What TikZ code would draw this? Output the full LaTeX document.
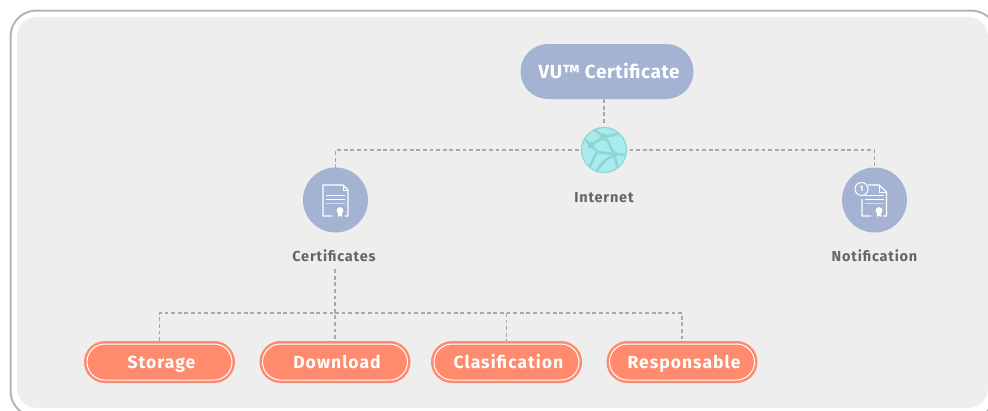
\documentclass[tikz,border=0pt]{standalone}
\usepackage{fontspec}
\setmainfont{Fira Sans}
\newfontfamily\pillfont{Fira Sans}[LetterSpace=6]
\newfontfamily\capfont{Fira Sans}[LetterSpace=5.4]
\newfontfamily\topfont{Fira Sans}[LetterSpace=3]
\usetikzlibrary{shapes.misc}
\definecolor{panelbg}{HTML}{EEEEEE}
\definecolor{panelline}{HTML}{B4B4B4}
\definecolor{slate}{HTML}{A5B3D3}
\definecolor{coral}{HTML}{FF8A6E}
\definecolor{labelgray}{HTML}{666666}
\definecolor{dashgray}{HTML}{A8A8A8}
\definecolor{globefill}{HTML}{A9ECEB}
\definecolor{globevein}{HTML}{8ED6D6}
\tikzset{
  dashline/.style={dashgray,line width=1.8pt,dash pattern=on 3.8pt off 2.8pt},
  pill/.style={rounded rectangle,draw=coral,fill=coral,line width=2.5pt,double=white,double distance=1pt,
    minimum width=145pt,minimum height=36pt,inner sep=0pt,outer sep=3pt,text=white,text height=12pt,text depth=0pt,
    font=\pillfont\bfseries\fontsize{17.5}{18}\selectfont},
  iconball/.style={circle,fill=slate,minimum size=65pt,inner sep=0pt,outer sep=0pt},
  caption/.style={text=labelgray,text height=10pt,text depth=0pt,font=\capfont\bfseries\fontsize{14.5}{16}\selectfont,inner sep=0pt},
}
\begin{document}
\begin{tikzpicture}[x=1pt,y=-1pt,line join=round]
\tikzset{
sheet/.pic={
\draw[white,line width=1.2pt](-3,16)--(-12.5,16)--(-12.5,-15)--(7.5,-15)--(12.5,-10)--(12.5,16)--(9,16);
\draw[white,line width=.8pt](7.5,-15)--(7.5,-10)--(12.5,-10);
},
seal/.pic={
\fill[white](2.5,11)--(2.5,17)--(4.5,15.5)--(6.5,17)--(6.5,11)--cycle;
\fill[white](4.5,10.5)circle(3.4);
},
rows/.pic={
\draw[white,line width=.8pt](-9.5,-5)--(9.5,-5) (-9.5,-.7)--(9.5,-.7);
\draw[white,opacity=.55,line width=1pt](-9.5,3.3)--(9.5,3.3);
},
}
\useasboundingbox (0,0) rectangle (988,410);
\clip (0,0) rectangle (988,410);
\draw[panelline,line width=2pt,rounded corners=26pt](10.5,10.5) rectangle (997,417);
\fill[panelbg,rounded corners=20pt](17,17) rectangle (988,408);
% top of the tree
\node[rounded rectangle,fill=slate,minimum width=173pt,minimum height=55pt,inner sep=0pt,text=white,text height=13pt,text depth=0pt,font=\topfont\bfseries\fontsize{19}{20}\selectfont] (vu) at (607,71.5) {\hspace{4pt}VU™ Certificate};
\node[circle,fill=globefill,draw=globevein,line width=1.2pt,minimum size=45pt,inner sep=0pt,outer sep=3pt] (globe) at (604,150) {};
\begin{scope}
\clip (604,150) circle (22.5);
\draw[globevein,line width=2.6pt]
 (592,128)--(604,137)--(622,133)
 (604,137)--(591,145)--(584,139)
 (591,145)--(597,152)--(587,172)
 (604,137)--(608,142)--(614,154)--(630,155)
 (597,152)--(614,154)--(619,172)
 (596,172)..controls (602,162) and (608,157) ..(614,156);
\fill[globevein](604,137)circle(4) (591,145)circle(3.5) (614,154)circle(3.5);
\end{scope}
\node[caption] (internet) at (604,197) {Internet};
% left and right branch
\node[iconball] (cert) at (335.5,200) {};
\node[iconball] (notif) at (874.5,200) {};
\pic at (335.5,200) {sheet};
\pic at (335.5,200) {rows};
\pic at (335.5,200) {seal};
\draw[white,line width=1.2pt](868,185)--(879,185)--(886.5,192)--(886.5,216)--(883,216) (871,216)--(862,216)--(862,199);
\draw[white,line width=.8pt](879,185)--(879,192)--(886.5,192);
\pic at (874.5,200) {rows};
\pic at (874.5,200) {seal};
\node[circle,draw=white,fill=slate,line width=1pt,minimum size=13pt,inner sep=0pt,text=white,font=\bfseries\fontsize{8}{8}\selectfont] (badge) at (861.5,189) {1};
\node[caption] (certlabel) at (334,256) {Certificates};
\node[caption] (notiflabel) at (874.5,256) {Notification};
% bottom row
\foreach \nm/\xc/\txt in {storage/159.5/Storage,download/335/Download,clasif/506.5/Clasification,respon/682/Responsable}{
\node[pill] (\nm) at (\xc,362) {\hspace{4pt}\txt};
}
\coordinate (bus) at (335,313);
\draw[dashline](vu.south -| globe.north)--(globe.north);
\draw[dashline](globe)-|(cert);
\draw[dashline](globe)-|(notif);
\draw[dashline,shorten <=8pt](certlabel.south -| download.north)--(download.north);
\draw[dashline](storage.north)|-(bus);
\draw[dashline](bus)-|(respon.north);
\draw[dashline](bus -| clasif.north)--(clasif.north);
\end{tikzpicture}
\end{document}
